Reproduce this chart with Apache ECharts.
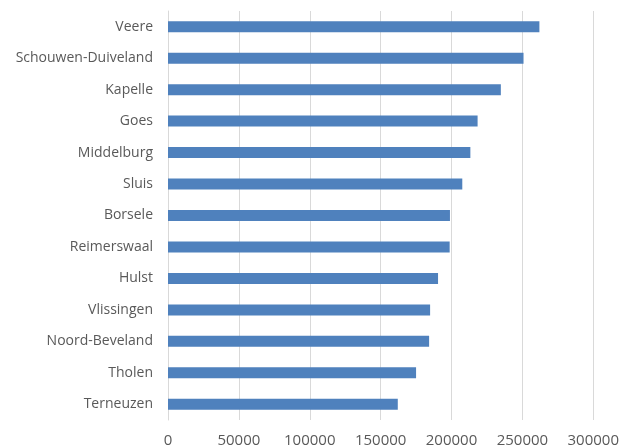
<!DOCTYPE html>
<html>
<head>
<meta charset="utf-8">
<script src="https://cdn.jsdelivr.net/npm/echarts@6/dist/echarts.min.js"></script>
<style>html,body{margin:0;padding:0;background:#fff}#c{width:622px;height:448px}</style>
</head>
<body>
<div id="c"></div>
<script>
const categories = ["Veere","Schouwen-Duiveland","Kapelle","Goes","Middelburg","Sluis","Borsele","Reimerswaal","Hulst","Vlissingen","Noord-Beveland","Tholen","Terneuzen"];
const values = [262000,250800,234800,218400,213300,207600,198900,198700,190500,184900,184200,175000,162100];
const xTicks = [0,50000,100000,150000,200000,250000,300000];

const chart = echarts.init(document.getElementById('c'), null, {renderer:'canvas'});
chart.setOption({
  animation:false,
  grid:{left:168,right:27,top:11,bottom:28,containLabel:false},
  xAxis:{
    type:'value', min:xTicks[0], max:xTicks[xTicks.length-1], interval:xTicks[1]-xTicks[0],
    axisLine:{show:false}, axisTick:{show:false},
    splitLine:{show:true,lineStyle:{color:'#d9d9d9',width:1}},
    axisLabel:{color:'#595959',fontFamily:'Open Sans',fontSize:15,margin:13,formatter:v=>String(v)}
  },
  yAxis:{
    type:'category', data:categories, inverse:true,
    axisLine:{show:true,lineStyle:{color:'#d9d9d9'}}, axisTick:{show:false},
    axisLabel:{color:'#595959',fontFamily:'Open Sans',fontSize:14,margin:15}
  },
  series:[{type:'bar',data:values,barWidth:11,itemStyle:{color:'#4f81bd'}}]
});
</script>
</body>
</html>
